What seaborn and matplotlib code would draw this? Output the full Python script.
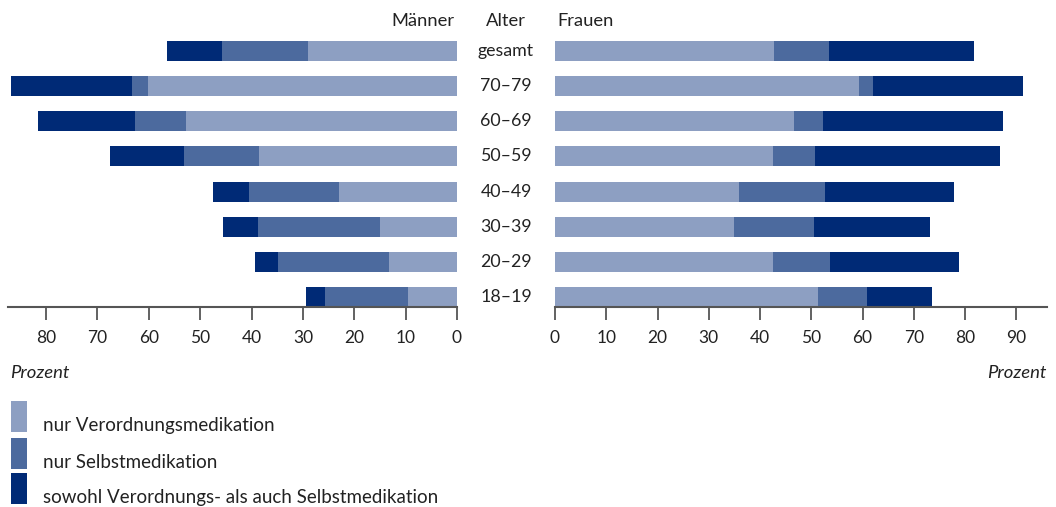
import numpy as np
import pandas as pd
import matplotlib
matplotlib.use("Agg")
import matplotlib.pyplot as plt
import seaborn as sns
from matplotlib.patches import Rectangle

ages = ["gesamt", "70–79", "60–69", "50–59", "40–49", "30–39", "20–29", "18–19"]
men_verord = [29.0, 60.1, 52.7, 38.5, 22.9, 14.9, 13.2, 9.5]
men_selbst = [16.7, 3.2, 9.9, 14.6, 17.6, 23.8, 21.6, 16.2]
men_beide = [10.7, 23.5, 19.0, 14.4, 7.0, 6.8, 4.5, 3.7]
women_verord = [42.7, 59.3, 46.6, 42.5, 35.9, 34.9, 42.5, 51.3]
women_selbst = [10.7, 2.7, 5.6, 8.2, 16.7, 15.6, 11.1, 9.5]
women_beide = [28.3, 29.4, 35.3, 36.2, 25.2, 22.6, 25.2, 12.7]
left_ticks = [80, 70, 60, 50, 40, 30, 20, 10, 0]
right_ticks = [0, 10, 20, 30, 40, 50, 60, 70, 80, 90]
legend_labels = ["nur Verordnungsmedikation", "nur Selbstmedikation",
                 "sowohl Verordnungs- als auch Selbstmedikation"]
colors = ["#8D9FC2", "#4C6A9E", "#002A76"]

sns.set_theme(style="white")
plt.rcParams['font.family'] = ['Lato', 'DejaVu Sans']

W, H = 1056, 507
fig = plt.figure(figsize=(W / 100, H / 100), dpi=100)

def ax_rect(x0, x1, y0, y1):
    return [x0 / W, 1 - y1 / H, (x1 - x0) / W, (y1 - y0) / H]

axL = fig.add_axes(ax_rect(8, 457, 35, 307.3))
axR = fig.add_axes(ax_rect(555, 1047, 35, 307.3))

def stacked(ax, a, b, c):
    df = pd.DataFrame({"age": ages, "a": a, "ab": np.add(a, b),
                       "abc": np.add(np.add(a, b), c)})
    for col, colr in zip(["abc", "ab", "a"], colors[::-1]):
        sns.barplot(data=df, x=col, y="age", order=ages, color=colr,
                    width=0.57, saturation=1, ax=ax, orient="h",
                    linewidth=0, errorbar=None)
    ax.set_ylim(7.285, -0.45)
    ax.set_ylabel("")
    ax.set_xlabel("")
    ax.set_yticks([])
    for s in ["top", "left", "right"]:
        ax.spines[s].set_visible(False)
    ax.spines["bottom"].set_color("#555555")
    ax.spines["bottom"].set_linewidth(1.5)
    ax.tick_params(axis="x", bottom=True, length=9, width=1.3, color="#555555",
                   pad=7, labelsize=12.5, labelcolor="#222222")

stacked(axL, men_verord, men_selbst, men_beide)
axL.set_xlim(87.4, 0)
axL.set_xticks(left_ticks)
axL.set_xticklabels([str(t) for t in left_ticks])

stacked(axR, women_verord, women_selbst, women_beide)
axR.set_xlim(0, 96)
axR.set_xticks(right_ticks)
axR.set_xticklabels([str(t) for t in right_ticks])

def fy(y):
    return 1 - y / H

TXT = "#222222"
fig.text(454 / W, fy(21), "Männer", ha="right", va="center", fontsize=13.2, color=TXT)
fig.text(506 / W, fy(21), "Alter", ha="center", va="center", fontsize=13.2, color=TXT)
fig.text(557 / W, fy(21), "Frauen", ha="left", va="center", fontsize=13.2, color=TXT)

for i, a in enumerate(ages):
    yd = axL.transData.transform((0, i))[1]
    fig.text(506 / W, yd / H, a, ha="center", va="center", fontsize=12.8, color=TXT)

fig.text(10 / W, fy(373), "Prozent", ha="left", va="center", fontsize=13.3,
         style="italic", color=TXT)
fig.text(1046 / W, fy(373), "Prozent", ha="right", va="center", fontsize=13.3,
         style="italic", color=TXT)

tops = [401, 438, 473]
for t, lab, c in zip(tops, legend_labels, colors):
    fig.patches.append(Rectangle((11 / W, fy(t + 31)), 16 / W, 31 / H,
                                 transform=fig.transFigure, color=c, lw=0))
    fig.text(43 / W, fy(t + 24), lab, ha="left", va="center", fontsize=13.5,
             color=TXT)

fig.savefig("out.png", dpi=100)
